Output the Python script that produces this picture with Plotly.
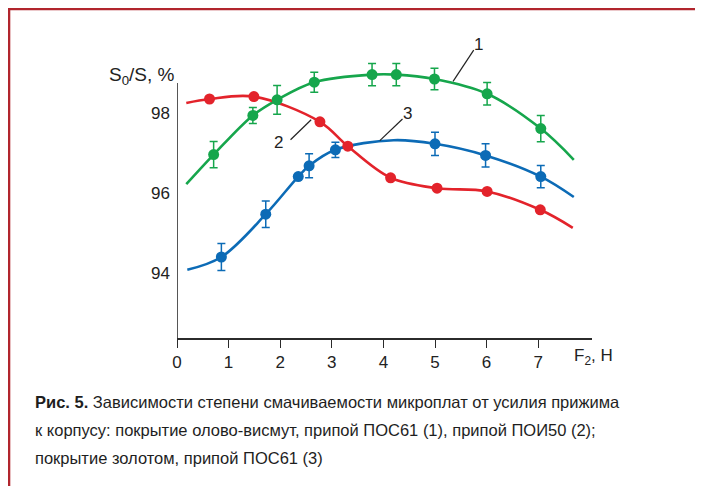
import plotly.graph_objects as go

# ---- data ----
# Series 1 (green): покрытие олово-висмут, припой ПОС61
s1_x = [0.71, 1.47, 1.94, 2.66, 3.78, 4.25, 4.99, 6.01, 7.05]
s1_y = [96.96, 97.94, 98.33, 98.77, 98.96, 98.96, 98.85, 98.48, 97.61]
s1_err = [0.33, 0.20, 0.36, 0.25, 0.28, 0.28, 0.27, 0.28, 0.33]
s1_curve_x = [0.18, 0.71, 1.47, 1.94, 2.66, 3.78, 4.25, 4.99, 6.01, 7.05, 7.69]
s1_curve_y = [96.22, 96.96, 97.94, 98.33, 98.77, 98.96, 98.96, 98.85, 98.48, 97.61, 96.83]

# Series 2 (red): припой ПОИ50
s2_x = [0.63, 1.49, 2.77, 3.31, 4.14, 5.04, 6.01, 7.04]
s2_y = [98.35, 98.41, 97.78, 97.17, 96.38, 96.12, 96.04, 95.58]
s2_curve_x = [0.18, 0.63, 1.49, 2.77, 3.31, 4.14, 5.04, 6.01, 7.04, 7.67]
s2_curve_y = [98.25, 98.35, 98.41, 97.78, 97.17, 96.38, 96.12, 96.04, 95.58, 95.13]

# Series 3 (blue): покрытие золотом, припой ПОС61
s3_x = [0.86, 1.72, 2.35, 2.56, 3.07, 5.00, 5.98, 7.05]
s3_y = [94.40, 95.47, 96.41, 96.68, 97.08, 97.23, 96.94, 96.41]
s3_err = [0.34, 0.33, 0.0, 0.30, 0.19, 0.29, 0.29, 0.28]
s3_curve_x = [0.20, 0.86, 1.72, 2.35, 2.56, 3.07, 4.20, 5.00, 5.98, 7.05, 7.69]
s3_curve_y = [94.08, 94.40, 95.47, 96.41, 96.68, 97.08, 97.32, 97.23, 96.94, 96.41, 95.90]

x_ticks = [0, 1, 2, 3, 4, 5, 6, 7]
y_ticks = [94, 96, 98]

GREEN = "#16a64c"
RED = "#e3232b"
BLUE = "#0c6bb6"
AX = "#2b2b2b"
FONT = "Liberation Sans"

OFF = 8  # page body margin
W, H = 695, 478
ML, MR, MT, MB = 169, 111, 25, 148
PW, PH = W - ML - MR, H - MT - MB
Y0 = 92.375
YTOP_AXIS = 98.75
X_RANGE = [0, PW / 51.6]
Y_RANGE = [Y0, Y0 + PH / 40.0]


def px(x):
    return (x - OFF - ML) / PW


def py(y):
    return (H - MB - (y - OFF)) / PH


fig = go.Figure()

for cx, cy, col in [(s1_curve_x, s1_curve_y, GREEN),
                    (s2_curve_x, s2_curve_y, RED),
                    (s3_curve_x, s3_curve_y, BLUE)]:
    fig.add_trace(go.Scatter(x=cx, y=cy, mode="lines",
                             line=dict(color=col, width=2.6, shape="spline", smoothing=1.0),
                             hoverinfo="skip", showlegend=False))

fig.add_trace(go.Scatter(x=s1_x, y=s1_y, mode="markers", cliponaxis=False,
                         marker=dict(color=GREEN, size=11),
                         error_y=dict(type="data", array=s1_err, visible=True,
                                      color=GREEN, thickness=1.5, width=4),
                         showlegend=False))
fig.add_trace(go.Scatter(x=s2_x, y=s2_y, mode="markers", cliponaxis=False,
                         marker=dict(color=RED, size=11),
                         showlegend=False))
fig.add_trace(go.Scatter(x=s3_x, y=s3_y, mode="markers", cliponaxis=False,
                         marker=dict(color=BLUE, size=11),
                         error_y=dict(type="data", array=s3_err, visible=True,
                                      color=BLUE, thickness=1.5, width=4),
                         showlegend=False))

shapes = []
annotations = []

# y axis line (ends below the top of the plotting area, as in the source)
shapes.append(dict(type="line", xref="x", yref="y", x0=0, x1=0, y0=Y0, y1=YTOP_AXIS,
                   line=dict(color=AX, width=1.6)))

# leader lines for curve labels
leaders = [((5.75, 99.57), (5.35, 98.79), "1", (5.85, 99.71)),
           ((4.37, 97.85), (3.93, 97.31), "3", (4.46, 98.0)),
           ((2.20, 97.33), (2.60, 97.83), "2", (1.97, 97.27))]
for (x0, y0), (x1, y1), lab, (tx, ty) in leaders:
    shapes.append(dict(type="line", xref="x", yref="y", x0=x0, y0=y0, x1=x1, y1=y1,
                       line=dict(color="#222222", width=1.2)))
    annotations.append(dict(x=tx, y=ty, xref="x", yref="y", text=lab, showarrow=False,
                            font=dict(family=FONT, size=17, color="#222222")))

# frame (top and left dark red rules)
shapes.append(dict(type="line", xref="paper", yref="paper", x0=px(7.3), x1=px(703), y0=py(8.8), y1=py(8.8),
                   line=dict(color="#b1252d", width=3)))
shapes.append(dict(type="line", xref="paper", yref="paper", x0=px(8.8), x1=px(8.8), y0=py(7.3), y1=py(486),
                   line=dict(color="#b1252d", width=3)))

annotations.append(dict(x=px(177), y=py(76), xref="paper", yref="paper", xanchor="right", yanchor="middle",
                        text="S<sub>0</sub>/S, %", showarrow=False,
                        font=dict(family=FONT, size=19, color="#222222")))
annotations.append(dict(x=px(572), y=py(357), xref="paper", yref="paper", xanchor="left", yanchor="middle",
                        text="F<sub>2</sub>, Н", showarrow=False,
                        font=dict(family=FONT, size=17, color="#222222")))

caption = [
    "<b>Рис. 5.</b> Зависимости степени смачиваемости микроплат от усилия прижима",
    "к корпусу: покрытие олово-висмут, припой ПОС61 (1), припой ПОИ50 (2);",
    "покрытие золотом, припой ПОС61 (3)",
]
for i, line in enumerate(caption):
    annotations.append(dict(x=px(33), y=py(401.7 + 28.2 * i), xref="paper", yref="paper",
                            xanchor="left", yanchor="middle", text=line, showarrow=False,
                            font=dict(family=FONT, size=16.5, color="#1e1e1e")))

fig.update_layout(
    width=W, height=H,
    margin=dict(l=ML, r=MR, t=MT, b=MB, pad=0),
    paper_bgcolor="white", plot_bgcolor="white",
    shapes=shapes, annotations=annotations,
    font=dict(family=FONT, size=17, color="#222222"),
    xaxis=dict(range=X_RANGE, tickvals=x_ticks, ticktext=[str(v) for v in x_ticks],
               showgrid=False, zeroline=False, showline=True, linecolor=AX, linewidth=1.6,
               ticks="outside", ticklen=8, tickwidth=1.4, tickcolor=AX,
               tickfont=dict(family=FONT, size=17, color="#222222")),
    yaxis=dict(range=Y_RANGE, tickvals=y_ticks, ticktext=[str(v) for v in y_ticks],
               showgrid=False, zeroline=False, showline=False,
               ticks="", ticklabelstandoff=6,
               tickfont=dict(family=FONT, size=17, color="#222222")),
)

fig.write_html("out.html", config={"displayModeBar": False})
